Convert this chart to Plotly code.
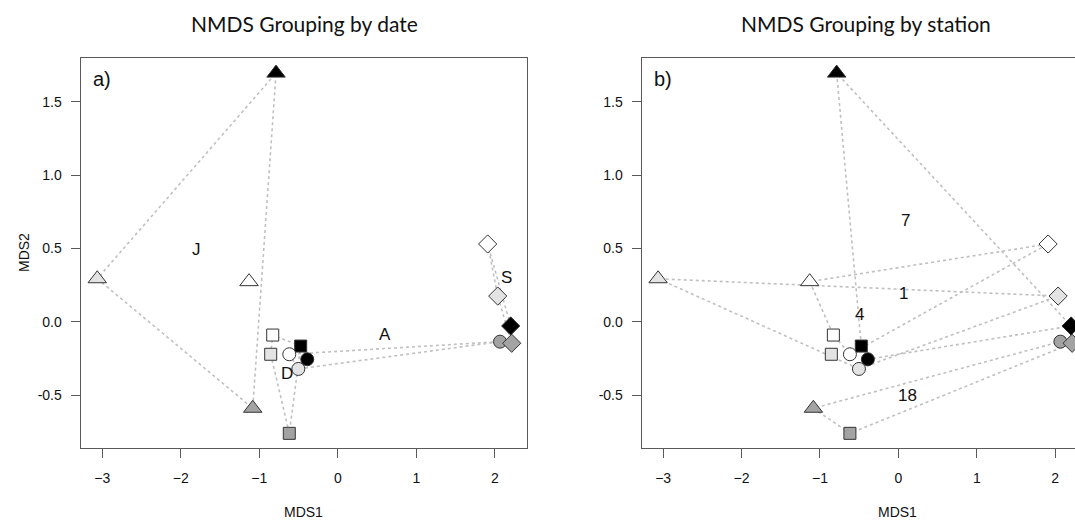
import plotly.graph_objects as go

# ---------------- data ----------------
date_labels = ["J", "D", "A", "S"]
date_symbols = ["triangle-up", "square", "circle", "diamond"]
symbol_sizes = [16, 12, 13, 14]

station_labels = ["1", "4", "18", "7"]
station_fills = ["#ffffff", "#e3e3e3", "#a3a3a3", "#000000"]

# one entry per sample: date group x station
point_date = ["J"] * 4 + ["D"] * 4 + ["A"] * 4 + ["S"] * 4
point_station = ["1", "4", "18", "7"] * 4
mds1 = [-1.131, -3.064, -1.084, -0.787,
        -0.829, -0.855, -0.618, -0.473,
        -0.618, -0.503, 2.066, -0.389,
        1.909, 2.037, 2.215, 2.202]
mds2 = [0.273, 0.293, -0.590, 1.695,
        -0.091, -0.222, -0.761, -0.166,
        -0.222, -0.322, -0.136, -0.256,
        0.530, 0.175, -0.147, -0.029]

# hull label positions
date_label_x = [-1.80, -0.65, 0.60, 2.15]
date_label_y = [0.49, -0.35, -0.09, 0.30]
station_label_x = [0.065, -0.496, 0.116, 0.087]
station_label_y = [0.194, 0.046, -0.50, 0.693]

x_ticks = [-3, -2, -1, 0, 1, 2]
y_ticks = [-0.5, 0.0, 0.5, 1.0, 1.5]
y_tick_text = ["-0.5", "0.0", "0.5", "1.0", "1.5"]

# ---------------- helpers ----------------
W, H = 1075, 521


def hull(xs, ys):
    pts = sorted(set(zip(xs, ys)))

    def cross(o, a, b):
        return (a[0] - o[0]) * (b[1] - o[1]) - (a[1] - o[1]) * (b[0] - o[0])

    lower = []
    for p in pts:
        while len(lower) >= 2 and cross(lower[-2], lower[-1], p) <= 0:
            lower.pop()
        lower.append(p)
    upper = []
    for p in reversed(pts):
        while len(upper) >= 2 and cross(upper[-2], upper[-1], p) <= 0:
            upper.pop()
        upper.append(p)
    h = lower[:-1] + upper[:-1]
    h.append(h[0])
    return [p[0] for p in h], [p[1] for p in h]


fig = go.Figure()
LINE_COL = "#c0c0c0"
EDGE = "#333333"

for panel, (xa, ya) in enumerate([("x", "y"), ("x2", "y2")]):
    groups = date_labels if panel == 0 else station_labels
    key = point_date if panel == 0 else point_station
    for g in groups:
        xs = [mds1[i] for i in range(len(mds1)) if key[i] == g]
        ys = [mds2[i] for i in range(len(mds2)) if key[i] == g]
        hx, hy = hull(xs, ys)
        fig.add_trace(go.Scatter(x=hx, y=hy, mode="lines", xaxis=xa, yaxis=ya,
                                 line=dict(color=LINE_COL, width=1.6, dash="3px,3px"),
                                 hoverinfo="skip", showlegend=False))
    for d, sym, sz in zip(date_labels, date_symbols, symbol_sizes):
        idx = [i for i in range(len(mds1)) if point_date[i] == d]
        fig.add_trace(go.Scatter(
            x=[mds1[i] for i in idx], y=[mds2[i] for i in idx],
            mode="markers", xaxis=xa, yaxis=ya, showlegend=False,
            cliponaxis=False,
            marker=dict(symbol=sym, size=sz,
                        color=[station_fills[station_labels.index(point_station[i])] for i in idx],
                        line=dict(color=EDGE, width=1))))

annotations = []
for lab, lx, ly in zip(date_labels, date_label_x, date_label_y):
    annotations.append(dict(x=lx, y=ly, xref="x", yref="y", text=lab, showarrow=False,
                            font=dict(family="Arial", size=17, color="#111")))
for lab, lx, ly in zip(station_labels, station_label_x, station_label_y):
    annotations.append(dict(x=lx, y=ly, xref="x2", yref="y2", text=lab, showarrow=False,
                            font=dict(family="Arial", size=17, color="#111")))


def pa(text, px, py, size, family="Arial", angle=0):
    return dict(x=px / W, y=1 - py / H, xref="paper", yref="paper", text=text,
                showarrow=False, xanchor="center", yanchor="middle", textangle=angle,
                font=dict(family=family, size=size, color="#111"))


annotations += [
    pa("NMDS Grouping by date", 304, 23, 21, family="Lato"),
    pa("NMDS Grouping by station", 866, 23, 21, family="Lato"),
    pa("a)", 102, 79, 20),
    pa("b)", 663, 79, 20),
    pa("MDS1", 303.7, 512, 14),
    pa("MDS1", 897, 512, 14),
    pa("MDS2", 24, 253, 14, angle=-90),
]

ax_common = dict(showgrid=False, zeroline=False, showline=True, linecolor="#5a5a5a",
                 linewidth=1.2, ticks="outside", ticklen=9, tickcolor="#5a5a5a",
                 tickfont=dict(family="Arial", size=14, color="#111"))

left_x = [80.7, 526.7]
right_x = [641.7, 1075]
y_px = [58.3, 447.7]
ydom = [1 - y_px[1] / H, 1 - y_px[0] / H]

fig.update_layout(
    width=W, height=H, autosize=False,
    margin=dict(l=0, r=0, t=0, b=0),
    plot_bgcolor="white", paper_bgcolor="white",
    xaxis=dict(domain=[left_x[0] / W, left_x[1] / W], range=[-3.275, 2.406],
               tickvals=x_ticks, mirror=True, anchor="y", ticklabelstandoff=8, **ax_common),
    yaxis=dict(domain=ydom, range=[-0.859, 1.796], tickvals=y_ticks, ticktext=y_tick_text,
               mirror=True, anchor="x", ticklabelstandoff=6, **ax_common),
    xaxis2=dict(domain=[right_x[0] / W, 1.0], range=[-3.273, 2.252],
                tickvals=x_ticks, mirror=True, anchor="y2", ticklabelstandoff=8, **ax_common),
    yaxis2=dict(domain=ydom, range=[-0.859, 1.796], tickvals=y_ticks, ticktext=y_tick_text,
                mirror=False, anchor="x2", ticklabelstandoff=6, **ax_common),
    annotations=annotations,
)

fig.write_html("out.html")
